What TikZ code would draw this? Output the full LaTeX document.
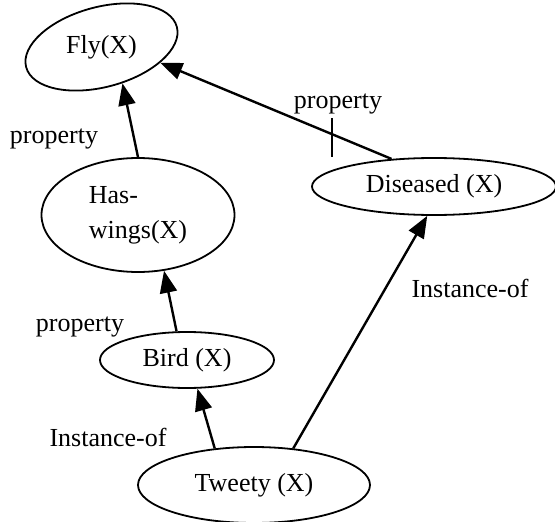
\documentclass[tikz,border=0pt]{standalone}
\usepackage{fontspec}
\setmainfont{Liberation Serif}
\usetikzlibrary{shapes.geometric,arrows.meta}
\tikzset{
  concept/.style={draw, ellipse, line width=1.8pt, inner sep=0pt, font=\fontsize{26}{35}\selectfont},
  lbl/.style={inner sep=0pt, font=\fontsize{26}{35}\selectfont},
  link/.style={line width=2.4pt, -{Triangle[length=22pt,width=17pt]}},
  tickmark/.style={line width=1.4pt}
}
\begin{document}
\begin{tikzpicture}[x=1pt,y=-1pt]
\useasboundingbox (0,0) rectangle (555,522);
% concepts
\node[concept, rotate=15, minimum width=156pt, minimum height=80pt] (fly) at (101.5,47) {\rotatebox{-15}{Fly(X)}};
\node[concept, minimum width=193pt, minimum height=114pt, align=left] (hw) at (138,215) {Has-\\wings(X)};
\node[concept, minimum width=244pt, minimum height=57pt] (dis) at (434,186.5) {Diseased (X)};
\node[concept, minimum width=174pt, minimum height=56pt] (bird) at (187,360) {Bird (X)};
\node[concept, minimum width=232pt, minimum height=76pt] (tw) at (254,485) {Tweety (X)};
% connectors
\draw[link] (hw.90) -- (fly.-75.5);
\draw[link] (dis.147) -- (fly.-30);
\draw[link] (bird.110) -- (hw.-65);
\draw[link] (tw.137) -- (bird.-70);
\draw[link] (tw.43) -- (dis.-103);
% tick on the Diseased-Fly link
\coordinate (tickA) at (332,118);
\coordinate (tickB) at (332,157);
\draw[tickmark] (tickA) -- (tickB);
% labels
\node[lbl] (p1) at (54,139) {property};
\node[lbl] (p2) at (338,104) {property};
\node[lbl] (p3) at (80,327) {property};
\node[lbl] (i1) at (108,437) {Instance-of};
\node[lbl] (i2) at (470,288) {Instance-of};
\end{tikzpicture}
\end{document}
